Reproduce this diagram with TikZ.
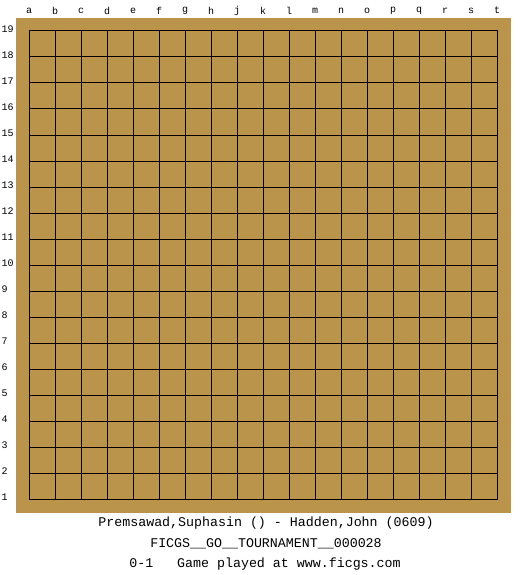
\documentclass[tikz,border=0pt]{standalone}
\usepackage{fontspec}
\setmainfont{Liberation Mono}
\usepackage{tikz}

\definecolor{boardtan}{RGB}{185,148,74}

\begin{document}
\begin{tikzpicture}[
  x=1pt,
  y=-1pt,
  grid line/.style={draw=black, line width=1pt, line cap=rect},
  coord label/.style={inner sep=0pt, font=\fontsize{10}{10}\selectfont,
    text=black},
  caption line/.style={inner sep=0pt, font=\fontsize{13.3}{13.3}\selectfont,
    text=black}
]
  \path[use as bounding box, fill=white] (0,0) rectangle (525,575);

  % Wooden board.
  \fill[boardtan] (16,18) rectangle (511,513);

  % The 19 x 19 lines.
  \foreach \k in {0,...,18} {
    \draw[grid line] (29+26*\k,31) -- (29+26*\k,499);
    \draw[grid line] (29,31+26*\k) -- (497,31+26*\k);
  }

  % Column letters (no i) and row numbers.
  \foreach \c [count=\i from 0] in {a,b,c,d,e,f,g,h,j,k,l,m,n,o,p,q,r,s,t}
    \node[coord label] (col-\c) at (29+26*\i,10.5) {\c};
  \foreach \n in {1,...,19}
    \node[coord label, anchor=west] (row-\n) at (1.5,29+26*19-26*\n) {\n};

  % Game record under the board.
  \node[caption line] (players) at (266,523)
    {Premsawad,Suphasin () - Hadden,John (0609)};
  \node[caption line] (event) at (266,543.5)
    {FICGS\_\_GO\_\_TOURNAMENT\_\_000028};
  \node[caption line] (result) at (265,564)
    {0-1\ \ \ Game played at www.ficgs.com};
\end{tikzpicture}
\end{document}
